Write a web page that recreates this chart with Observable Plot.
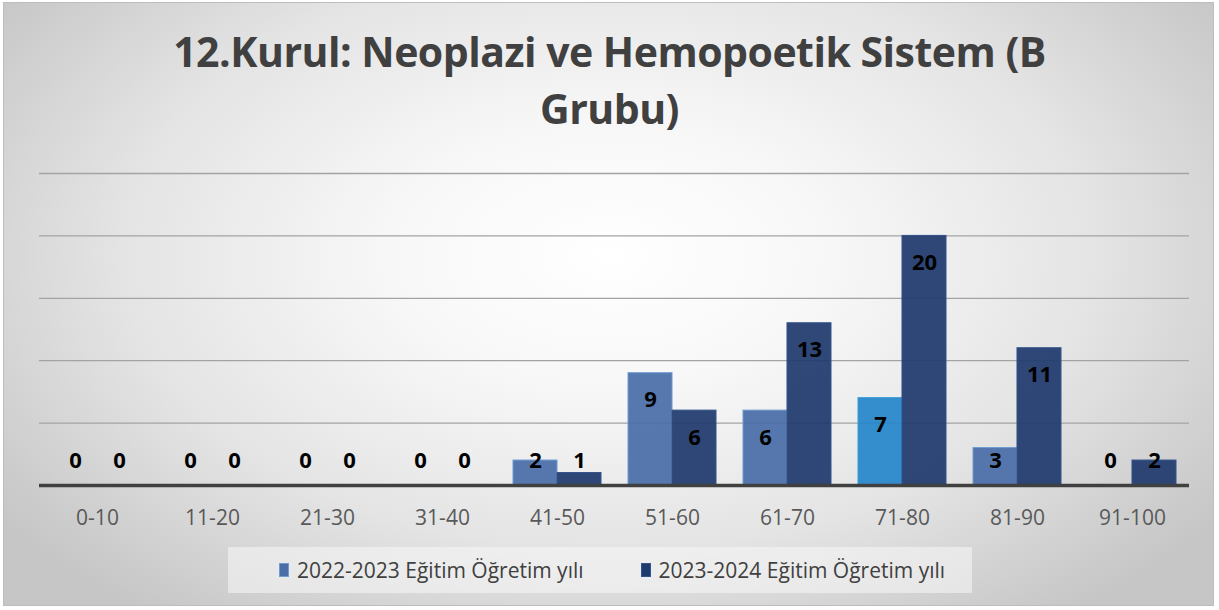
<!DOCTYPE html>
<html>
<head>
<meta charset="utf-8">
<script src="https://cdn.jsdelivr.net/npm/d3@7"></script>
<script src="https://cdn.jsdelivr.net/npm/@observablehq/plot@0.6"></script>
<style>
  html, body { margin: 0; padding: 0; }
  body { width: 1219px; height: 610px; overflow: hidden; background: #fff; }
  #frame {
    position: absolute; left: 3px; top: 2px; width: 1211px; height: 604px;
    border: 1px solid #bdbdbd; box-sizing: border-box;
    background: radial-gradient(ellipse 62% 75% at 50% 42%, #ffffff 0%, #f7f7f7 30%, #e4e4e4 65%, #c6c6c6 100%);
    overflow: hidden;
  }
  #title {
    position: absolute; left: 0; top: 23px; width: 1219px; text-align: center;
    font-family: "Open Sans", sans-serif; font-weight: 700; font-size: 41px;
    line-height: 57px; color: #404040; letter-spacing: -0.5px;
  }
  #chart { position: absolute; left: 0; top: 140px; }
  #legend {
    position: absolute; left: 228px; top: 547px; width: 744px; height: 46px;
    box-sizing: border-box; padding-left: 51px;
    background: rgba(248,248,248,0.55);
    display: flex; align-items: center; justify-content: flex-start; gap: 57px;
    font-family: "Open Sans", sans-serif; font-size: 21px; color: #404040;
  }
  .item { display: flex; align-items: center; gap: 8px; }
  .sw { width: 10px; height: 14px; box-sizing: border-box; }
</style>
</head>
<body>
<div id="frame"></div>
<div id="title">12.Kurul: Neoplazi ve Hemopoetik Sistem (B<br>Grubu)</div>
<div id="chart"></div>
<div id="legend"></div>
<script>
const categories = ["0-10", "11-20", "21-30", "31-40", "41-50", "51-60", "61-70", "71-80", "81-90", "91-100"];
const seriesNames = ["2022-2023 Eğitim Öğretim yılı", "2023-2024 Eğitim Öğretim yılı"];
const values2022 = [0, 0, 0, 0, 2, 9, 6, 7, 3, 0];
const values2023 = [0, 0, 0, 0, 1, 6, 13, 20, 11, 2];
const gridTicks = [5, 10, 15, 20, 25];

// styles
const color2022 = "#4a6ea8";
const color2022Highlight = "#2685c9";
const highlightCategory = "71-80";
const color2023 = "#1f3a6e";

const data2022 = categories.map((c, i) => ({category: c, value: values2022[i], series: seriesNames[0]}));
const data2023 = categories.map((c, i) => ({category: c, value: values2023[i], series: seriesNames[1]}));

const W = 1219, H = 400, mL = 39, mR = 30, mT = 33, mB = 55;
const padIn = 0.235;
const step = (W - mL - mR) / categories.length;
const half = step * (1 - padIn) / 2;
const labelY = d => Math.max(d.value - 2.16, 2);

const plot = Plot.plot({
  width: W, height: H,
  marginLeft: mL, marginRight: mR, marginTop: mT, marginBottom: mB,
  style: {fontFamily: "Open Sans, sans-serif", fontSize: "21px", color: "#595959", background: "transparent", overflow: "visible"},
  x: {domain: categories, paddingInner: padIn, paddingOuter: padIn / 2, tickSize: 0, tickPadding: 25, label: null},
  y: {domain: [0, 25], axis: null},
  marks: [
    Plot.ruleY(gridTicks, {stroke: "#a3a3a3", strokeWidth: 1.3}),
    Plot.barY(data2022, {x: "category", y: "value", insetRight: half,
      fill: d => d.category === highlightCategory ? color2022Highlight : color2022,
      fillOpacity: 0.93, stroke: d => d.category === highlightCategory ? "#3a9ad8" : "#6f9bd0", strokeWidth: 1}),
    Plot.barY(data2023, {x: "category", y: "value", insetLeft: half,
      fill: color2023, fillOpacity: 0.93, stroke: "#34538a", strokeWidth: 1}),
    Plot.ruleY([0], {stroke: "#404040", strokeWidth: 3.5}),
    Plot.text(data2022, {x: "category", y: labelY, dx: -half / 2, text: d => String(d.value),
      fill: "#000", fontWeight: "bold", fontSize: 22}),
    Plot.text(data2023, {x: "category", y: labelY, dx: half / 2, text: d => String(d.value),
      fill: "#000", fontWeight: "bold", fontSize: 22})
  ]
});
document.getElementById("chart").appendChild(plot);

const legend = document.getElementById("legend");
[[seriesNames[0], color2022, "#6f9bd0"], [seriesNames[1], color2023, "#34538a"]].forEach(([name, c, s]) => {
  const item = document.createElement("div");
  item.className = "item";
  const sw = document.createElement("div");
  sw.className = "sw";
  sw.style.background = c;
  sw.style.border = "1px solid " + s;
  const t = document.createElement("span");
  t.textContent = name;
  item.appendChild(sw); item.appendChild(t);
  legend.appendChild(item);
});
</script>
</body>
</html>
